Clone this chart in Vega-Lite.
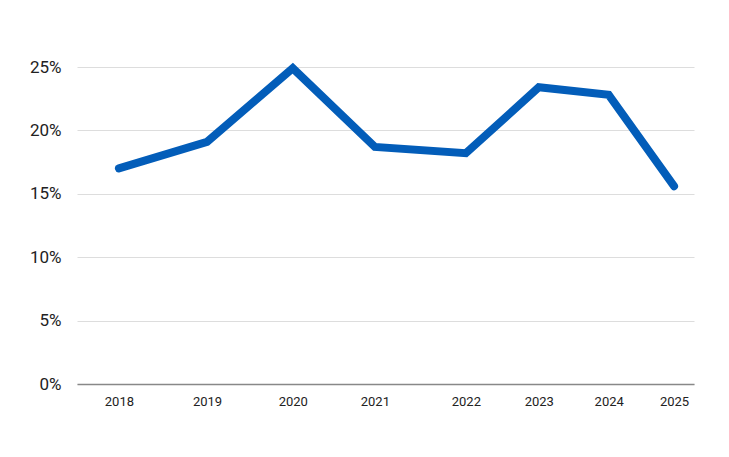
{
  "$schema": "https://vega.github.io/schema/vega-lite/v6.json",
  "width": 617,
  "height": 317,
  "autosize": "none",
  "padding": {"left": 77, "top": 67, "right": 35, "bottom": 73},
  "background": "white",
  "config": {"view": {"stroke": null}, "font": "Roboto"},
  "data": {
    "values": [
      {"date": "2018-01-15", "share": 0.170},
      {"date": "2019-02-25", "share": 0.191},
      {"date": "2020-03-26", "share": 0.249},
      {"date": "2021-04-08", "share": 0.187},
      {"date": "2022-06-01", "share": 0.182},
      {"date": "2023-05-03", "share": 0.234},
      {"date": "2024-03-20", "share": 0.228},
      {"date": "2025-01-15", "share": 0.156}
    ]
  },
  "mark": {"type": "line", "color": "#035DB9", "strokeWidth": 8, "strokeCap": "round", "strokeJoin": "miter"},
  "encoding": {
    "x": {
      "field": "date",
      "type": "temporal",
      "scale": {"domain": [{"year": 2017, "month": 7, "date": 6}, {"year": 2025, "month": 4, "date": 17}]},
      "axis": {
        "title": null,
        "grid": false,
        "ticks": false,
        "values": [
          {"year": 2018, "month": 1, "date": 15},
          {"year": 2019, "month": 2, "date": 25},
          {"year": 2020, "month": 3, "date": 26},
          {"year": 2021, "month": 4, "date": 8},
          {"year": 2022, "month": 6, "date": 1},
          {"year": 2023, "month": 5, "date": 3},
          {"year": 2024, "month": 3, "date": 20},
          {"year": 2025, "month": 1, "date": 15}
        ],
        "format": "%Y",
        "labelFont": "Roboto",
        "labelFontSize": 13,
        "labelColor": "#222222",
        "labelPadding": 11,
        "labelFlush": false,
        "labelOverlap": false,
        "domainColor": "#888888",
        "domainWidth": 1.5
      }
    },
    "y": {
      "field": "share",
      "type": "quantitative",
      "scale": {"domain": [0, 0.25], "nice": false},
      "axis": {
        "title": null,
        "values": [0, 0.05, 0.1, 0.15, 0.2, 0.25],
        "format": ".0%",
        "domain": false,
        "ticks": false,
        "gridColor": "#dddddd",
        "gridWidth": 1,
        "labelFont": "Roboto",
        "labelFontSize": 17,
        "labelColor": "#222222",
        "labelPadding": 16
      }
    }
  }
}
